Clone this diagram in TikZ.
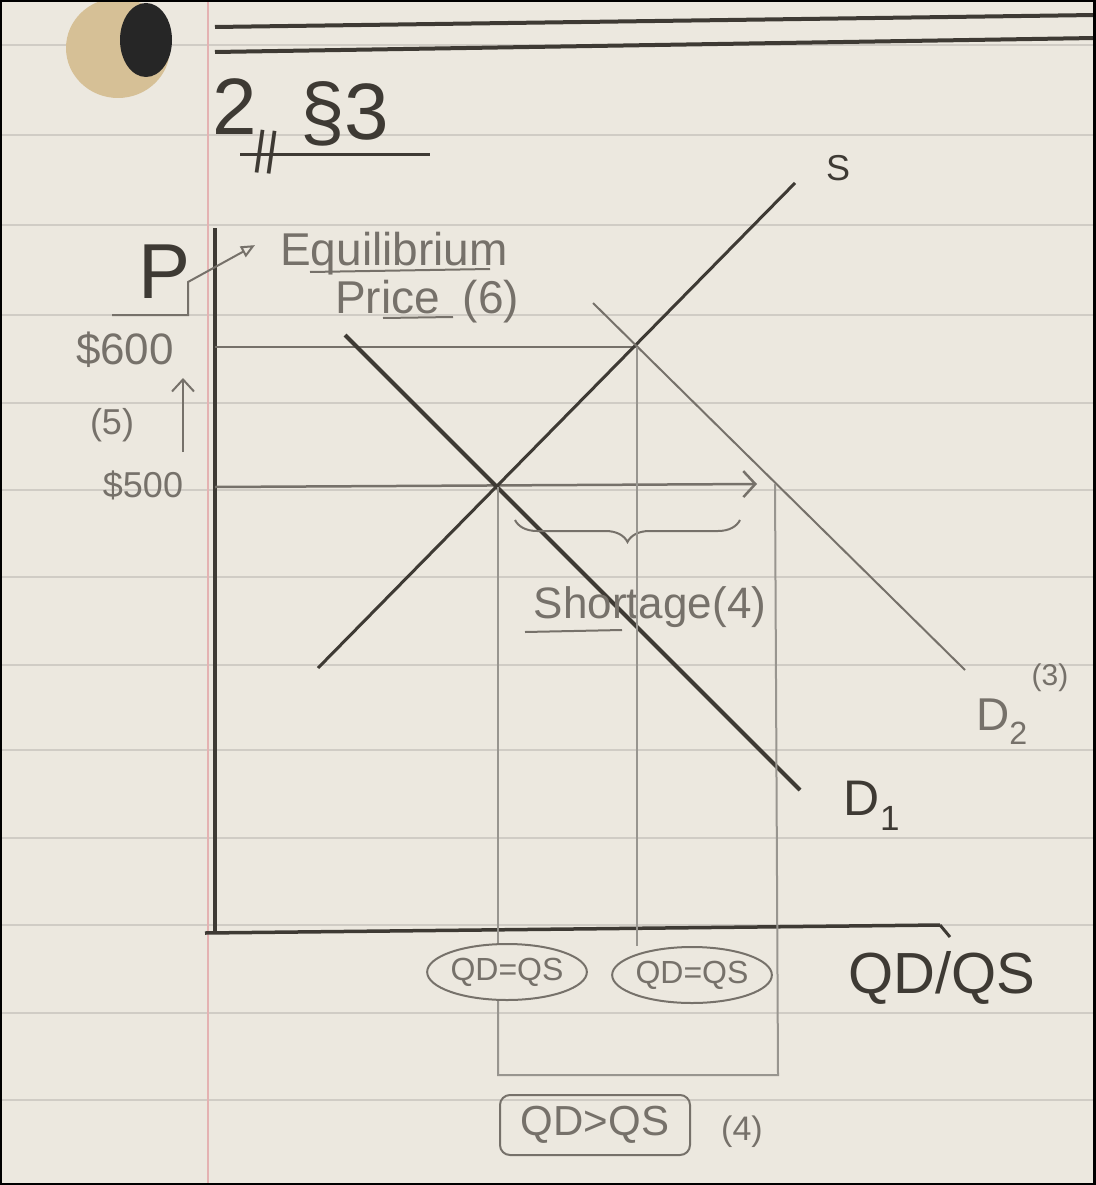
\documentclass[tikz,border=0pt]{standalone}
\usepackage{fontspec}
\setmainfont{Liberation Sans}
\usetikzlibrary{arrows.meta,shapes.geometric,decorations.pathreplacing}

\definecolor{paper}{RGB}{236,232,223}
\definecolor{ruling}{RGB}{208,204,197}
\definecolor{margin}{RGB}{228,178,178}
\definecolor{pencil}{RGB}{62,58,52}
\definecolor{graphite}{RGB}{118,113,106}
\definecolor{halo}{RGB}{214,192,150}

\tikzset{
  ink/.style={draw=pencil, line width=3.5pt},
  lead/.style={draw=graphite, line width=2pt},
  guide/.style={draw=graphite!75, line width=2pt},
  hand/.style={text=pencil, inner sep=0pt},
  soft/.style={text=graphite, inner sep=0pt},
  sz/.style={font=\fontsize{#1}{#1}\selectfont}
}

\begin{document}
\begin{tikzpicture}[x=1pt,y=-1pt]

\useasboundingbox (0,0) rectangle (1095,1185);

% Paper
\fill[paper] (0,0) rectangle (1095,1185);
\foreach \y in {45,135,225,315,403,490,577,665,750,838,925,1013,1100}
  \draw[ruling, line width=1.5pt] (0,\y) -- (1095,\y);
% Margin
\draw[margin, line width=2.5pt] (208,0) -- (208,1185);
% Punched hole
\fill[halo] (118,48) ellipse [x radius=52, y radius=50];
\fill[black!85] (146,40) ellipse [x radius=26, y radius=37];
% Header lines
\draw[pencil, line width=4pt] (215,27) -- (1095,15);
\draw[pencil, line width=4pt] (215,52) -- (1095,38);

% Title
\node[hand, sz=80, anchor=base west] (title) at (212,135) {2};
\node[hand, sz=46, rotate=-8] (bars) at (266,152) {||};
\node[hand, sz=80, anchor=base west] (sec) at (300,140) {\S3};
\draw[ink, line width=3pt] (240,155) -- (430,155);

% Points
\coordinate (ptop) at (215,228);
\coordinate (origin) at (215,933);
\coordinate (qend) at (940,925);
\coordinate (e1) at (498,487);
\coordinate (e2) at (637,347);
\coordinate (e3) at (775,484);
\coordinate (bot) at (778,1075);

% Axes
\draw[ink] (ptop) -- (origin);
\draw[ink] (205,933) -- (qend);
\draw[ink, line width=3pt] (qend) -- ++(10,12);
\node[hand, sz=78] (p) at (165,272) {P};
\node[hand, sz=58] (qdqs) at (942,978) {QD/QS};

% Equilibrium price note
\node[soft, sz=46, anchor=base west] (eq) at (280,265) {Equilibrium};
\node[soft, sz=46, anchor=base west] (price) at (335,313) {Price\hspace{0.5em}(6)};
\draw[lead] (310,272) -- (490,269);
\draw[lead] (383,318) -- (453,317);
\coordinate (hook) at (112,315);
\draw[lead, -{Triangle[open,length=14pt,width=12pt]}] (hook) -- (188,315) -- (188,282) -- ([xshift=-25pt,yshift=8pt]eq.west);

% Price levels
\node[soft, sz=44] (p600) at (125,350) {\$600};
\node[soft, sz=36] (step) at (112,425) {(5)};
\node[soft, sz=36] (p500) at (143,485) {\$500};
\coordinate (uplo) at (183,452);
\coordinate (uphi) at (183,378);
\draw[lead, -{Straight Barb[length=12pt,width=22pt]}] (uplo) -- (uphi);
\draw[guide, draw=graphite, line width=2.5pt] (ptop |- e2) -- (e2);
\draw[guide, draw=graphite, line width=2.5pt, -{Straight Barb[length=12pt,width=26pt]}] (ptop |- e1) -- (757,484);

% Supply
\draw[ink, line width=3pt] (318,668) -- (795,183);
\node[hand, sz=36] (s) at (838,168) {S};
% Demand 1
\draw[ink, line width=4pt] (345,335) -- (800,790);
\node[hand, sz=50] (d1) at (872,806) {D\textsubscript{1}};
% Demand 2
\draw[lead] (593,303) -- (965,670);
\node[soft, sz=46] (d2) at (1002,722) {D\textsubscript{2}};
\node[soft, sz=30] (d2n) at (1050,678) {(3)};

% Shortage
\draw[lead, decorate, decoration={brace, mirror, amplitude=22pt}] (515,520) -- (740,520);
\node[soft, sz=44] (short) at (650,607) {Shortage(4)};
\draw[lead] (525,632) -- (622,630);

% Quantities
\node[soft, ellipse, draw=graphite, line width=2pt, minimum width=145, minimum height=56, inner sep=0pt, sz=32] (qe1) at (507,972) {QD=QS};
\node[soft, ellipse, draw=graphite, line width=2pt, minimum width=135, minimum height=56, inner sep=0pt, sz=32] (qe2) at (692,975) {QD=QS};
\draw[guide] (e1) -- (e1 |- qe1.north);
\draw[guide] (e2) -- (e2 |- qe2.north);
\draw[guide] (e1 |- qe1.south) -- (e1 |- bot) -- (bot) -- (e3);
\node[soft, draw=graphite, line width=2pt, rounded corners=10pt, minimum width=190, minimum height=60, sz=42] (gap) at (595,1125) {QD>QS};
\node[soft, sz=34] (gapn) at (742,1132) {(4)};

% Frame
\draw[black, line width=4pt] (0,0) rectangle (1095,1185);

\end{tikzpicture}
\end{document}
